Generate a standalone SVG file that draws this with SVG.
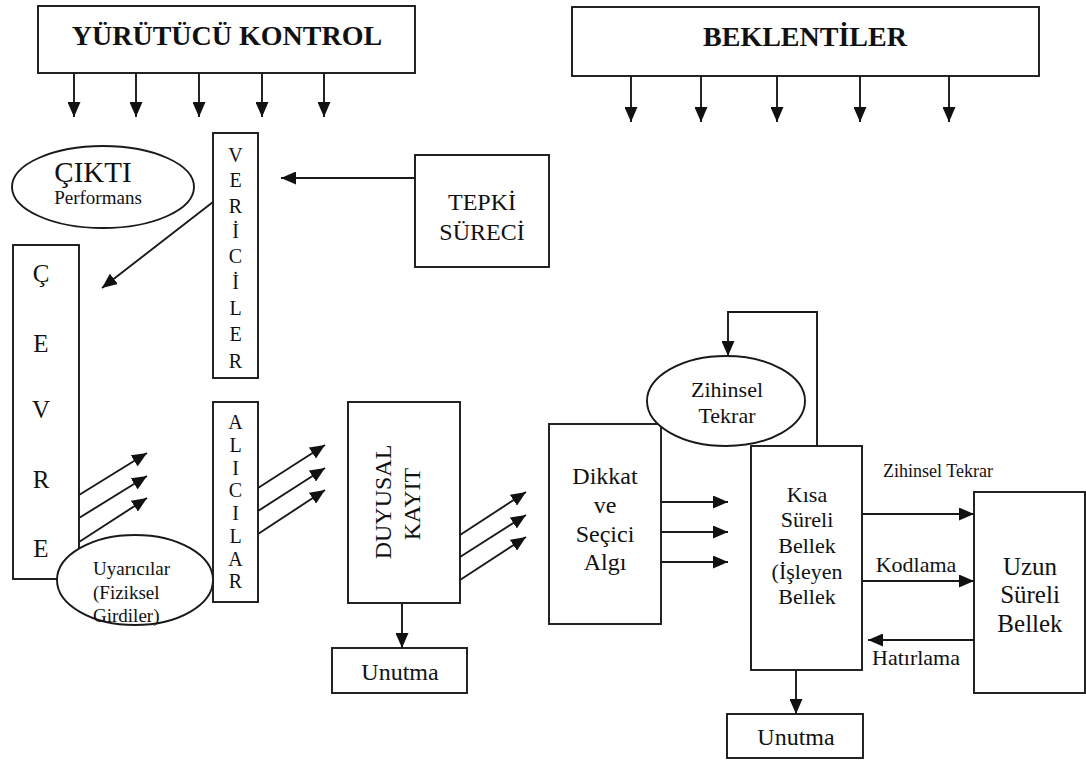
<svg xmlns="http://www.w3.org/2000/svg" width="1086" height="760" viewBox="0 0 1086 760" font-family="'Liberation Serif', 'Times New Roman', serif">
<style>
.b{fill:#fff;stroke:#1a1a1a;stroke-width:1.9}
.t{font-family:"Liberation Serif","Times New Roman",serif;fill:#111;text-anchor:middle}
.c{fill:none;stroke:#1a1a1a;stroke-width:1.9}
</style>
<defs>
<marker id="ah" markerUnits="userSpaceOnUse" markerWidth="15" markerHeight="13" refX="15" refY="6.5" orient="auto">
<path d="M0,0 L15,6.5 L0,13 z" fill="#111"/>
</marker>
</defs>
<rect width="1086" height="760" fill="#fff"/>

<g id="yurutucu">
<rect class="b" x="38" y="6" width="377" height="67"/>
<text class="t" x="227" y="45" font-size="28" font-weight="bold">YÜRÜTÜCÜ KONTROL</text>
</g>
<g id="beklentiler">
<rect class="b" x="572" y="7" width="467" height="69"/>
<text class="t" x="805" y="46" font-size="28" font-weight="bold">BEKLENTİLER</text>
</g>
<g id="tepki">
<rect class="b" x="415" y="155" width="134" height="112"/>
<text class="t" x="482" y="210" font-size="24">TEPKİ</text>
<text class="t" x="482" y="240" font-size="24">SÜRECİ</text>
</g>
<g id="vericiler">
<rect class="b" x="213" y="133" width="45" height="245"/>
<g class="t" font-size="20">
<text x="235.5" y="162">V</text><text x="235.5" y="187">E</text><text x="235.5" y="213">R</text><text x="235.5" y="238">İ</text><text x="235.5" y="263">C</text><text x="235.5" y="289">İ</text><text x="235.5" y="315">L</text><text x="235.5" y="341">E</text><text x="235.5" y="368">R</text>
</g>
</g>
<g id="cikti">
<ellipse class="b" cx="103" cy="187" rx="91" ry="41"/>
<text class="t" x="93" y="182" font-size="29">ÇIKTI</text>
<text class="t" x="98" y="204" font-size="19">Performans</text>
</g>
<g id="cevre">
<rect class="b" x="13" y="245" width="66" height="334"/>
<g class="t" font-size="25">
<text x="41" y="282">Ç</text><text x="41" y="352">E</text><text x="41" y="418">V</text><text x="41" y="488">R</text><text x="41" y="557">E</text>
</g>
</g>
<g id="alicilar">
<rect class="b" x="213" y="402" width="45" height="200"/>
<g class="t" font-size="20">
<text x="235.5" y="429">A</text><text x="235.5" y="452">L</text><text x="235.5" y="475">I</text><text x="235.5" y="497">C</text><text x="235.5" y="520">I</text><text x="235.5" y="543">L</text><text x="235.5" y="566">A</text><text x="235.5" y="588">R</text>
</g>
</g>
<g id="uyaricilar">
<ellipse class="b" cx="135" cy="580" rx="78" ry="45"/>
<g class="t" font-size="19" style="text-anchor:start">
<text x="93" y="575">Uyarıcılar</text>
<text x="93" y="599">(Fiziksel</text>
<text x="93" y="622">Girdiler)</text>
</g>
</g>
<g id="duyusal">
<rect class="b" x="348" y="402" width="112" height="201"/>
<text class="t" font-size="24" transform="translate(391,502) rotate(-90)">DUYUSAL</text>
<text class="t" font-size="24" transform="translate(420,504) rotate(-90)">KAYIT</text>
</g>
<g id="unutma1">
<rect class="b" x="332" y="648" width="135" height="45"/>
<text class="t" x="400" y="680" font-size="24">Unutma</text>
</g>
<g id="dikkat">
<rect class="b" x="549" y="424" width="112" height="200"/>
<text class="t" x="605" y="484" font-size="24">Dikkat</text>
<text class="t" x="605" y="513" font-size="24">ve</text>
<text class="t" x="605" y="542" font-size="24">Seçici</text>
<text class="t" x="605" y="570" font-size="24">Algı</text>
</g>
<g id="kisa">
<rect class="b" x="751" y="446" width="111" height="224"/>
<text class="t" x="807" y="502" font-size="22">Kısa</text>
<text class="t" x="807" y="527" font-size="22">Süreli</text>
<text class="t" x="807" y="553" font-size="22">Bellek</text>
<text class="t" x="807" y="579" font-size="22">(İşleyen</text>
<text class="t" x="807" y="604" font-size="22">Bellek</text>
</g>
<g id="zihinsel">
<ellipse class="b" cx="726" cy="401" rx="79" ry="45"/>
<text class="t" x="727" y="397" font-size="22">Zihinsel</text>
<text class="t" x="727" y="423" font-size="22">Tekrar</text>
</g>
<g id="uzun">
<rect class="b" x="974" y="492" width="111" height="201"/>
<text class="t" x="1030" y="575" font-size="25">Uzun</text>
<text class="t" x="1030" y="603" font-size="25">Süreli</text>
<text class="t" x="1030" y="632" font-size="25">Bellek</text>
</g>
<g id="unutma2">
<rect class="b" x="727" y="714" width="136" height="44"/>
<text class="t" x="796" y="745" font-size="24">Unutma</text>
</g>

<g id="connectors" class="c" marker-end="url(#ah)">
<line x1="74" y1="73" x2="74" y2="117"/>
<line x1="136" y1="73" x2="136" y2="117"/>
<line x1="199" y1="73" x2="199" y2="117"/>
<line x1="262" y1="73" x2="262" y2="117"/>
<line x1="324" y1="73" x2="324" y2="117"/>
<line x1="631" y1="76" x2="631" y2="122"/>
<line x1="701" y1="76" x2="701" y2="122"/>
<line x1="777" y1="76" x2="777" y2="122"/>
<line x1="860" y1="76" x2="860" y2="122"/>
<line x1="949" y1="76" x2="949" y2="122"/>
<line x1="415" y1="178" x2="281" y2="178"/>
<line x1="213" y1="202" x2="102" y2="288"/>
<line x1="79" y1="495" x2="147" y2="453"/>
<line x1="79" y1="518" x2="147" y2="476"/>
<line x1="79" y1="542" x2="147" y2="498"/>
<line x1="258" y1="488" x2="325" y2="445"/>
<line x1="258" y1="511" x2="325" y2="468"/>
<line x1="258" y1="534" x2="325" y2="490"/>
<line x1="460" y1="535" x2="526" y2="492"/>
<line x1="460" y1="557" x2="526" y2="515"/>
<line x1="460" y1="580" x2="526" y2="537"/>
<line x1="402" y1="603" x2="402" y2="648"/>
<line x1="661" y1="502" x2="728" y2="502"/>
<line x1="661" y1="532" x2="728" y2="532"/>
<line x1="661" y1="562" x2="728" y2="562"/>
<polyline points="817,446 817,312 728,312 728,356"/>
<line x1="862" y1="514" x2="974" y2="514"/>
<line x1="862" y1="581" x2="974" y2="581"/>
<line x1="974" y1="640" x2="868" y2="640"/>
<line x1="796" y1="670" x2="796" y2="714"/>
</g>
<g id="labels" class="t">
<text x="938" y="477" font-size="18">Zihinsel Tekrar</text>
<text x="916" y="572" font-size="22">Kodlama</text>
<text x="916" y="665" font-size="22">Hatırlama</text>
</g>
</svg>
